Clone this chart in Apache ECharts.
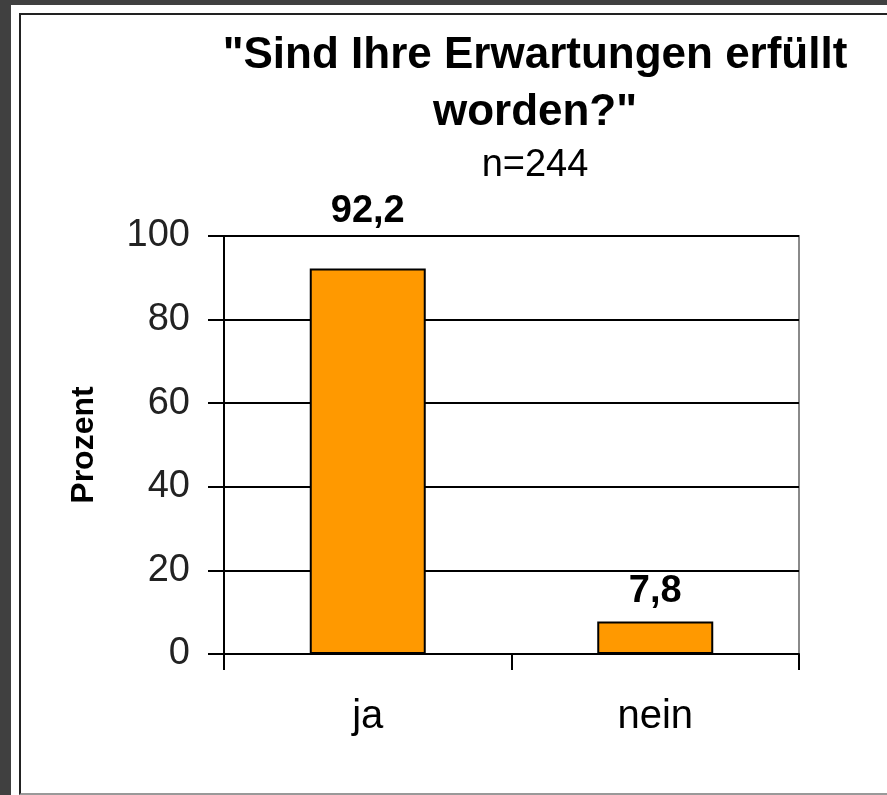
<!DOCTYPE html>
<html>
<head>
<meta charset="utf-8">
<script src="https://cdn.jsdelivr.net/npm/echarts@6/dist/echarts.min.js"></script>
<style>
  html, body { margin: 0; padding: 0; background: #404040; }
  .panel {
    position: absolute; left: 11px; top: 5px; width: 876px; height: 790px;
    background: #fff;
  }
  .frame {
    position: absolute; left: 19px; top: 13px; width: 880px; height: 778px;
    border-left: 2px solid #222; border-top: 2px solid #222;
    border-bottom: 2px solid #999;
  }
  #chart { position: absolute; left: 0; top: 0; width: 887px; height: 795px; }
</style>
</head>
<body>
<div class="panel"></div>
<div class="frame"></div>
<div id="chart"></div>
<script>
  const categories = ["ja", "nein"];
  const values = [92.2, 7.8];
  const labelTexts = ["92,2", "7,8"];
  const labelGaps = [38, 11];

  const font = "'Liberation Sans', Arial, sans-serif";
  const chart = echarts.init(document.getElementById("chart"));

  chart.setOption({
    backgroundColor: "transparent",
    animation: false,
    title: {
      text: '"Sind Ihre Erwartungen erfüllt\nworden?"',
      subtext: "n=244",
      left: 535,
      top: 27,
      padding: 0,
      textAlign: "center",
      itemGap: 5,
      textStyle: { fontFamily: font, fontSize: 44, fontWeight: "bold", color: "#000", lineHeight: 57 },
      subtextStyle: { fontFamily: font, fontSize: 38, color: "#000", lineHeight: 40 }
    },
    grid: {
      left: 224, right: 88, top: 236, bottom: 141,
      show: true, borderColor: "#8a8a8a", borderWidth: 2
    },
    xAxis: {
      type: "category",
      data: categories,
      axisLine: { show: true, lineStyle: { color: "#000", width: 2 } },
      axisTick: { show: true, alignWithLabel: false, interval: 0, length: 16, lineStyle: { color: "#000", width: 2 } },
      axisLabel: { margin: 43, fontFamily: font, fontSize: 40, color: "#000" }
    },
    yAxis: {
      type: "value",
      min: 0, max: 100, interval: 20,
      name: "Prozent",
      nameLocation: "middle",
      nameRotate: 90,
      nameGap: 124,
      nameTextStyle: { fontFamily: font, fontSize: 32, fontWeight: "bold", color: "#000" },
      axisLine: { show: true, lineStyle: { color: "#000", width: 2 } },
      axisTick: { show: true, length: 16, lineStyle: { color: "#000", width: 2 } },
      axisLabel: { margin: 34, fontFamily: font, fontSize: 38, color: "#222" },
      splitLine: { lineStyle: { color: "#000", width: 2 } }
    },
    series: [{
      type: "bar",
      barWidth: 116,
      data: values.map((v, i) => ({
        value: v,
        label: { distance: labelGaps[i] }
      })),
      itemStyle: { color: "#FF9900", borderColor: "#000", borderWidth: 2 },
      label: {
        show: true,
        position: "top",
        fontFamily: font,
        fontSize: 38,
        fontWeight: "bold",
        color: "#000",
        formatter: p => labelTexts[p.dataIndex]
      }
    }]
  });
</script>
</body>
</html>
